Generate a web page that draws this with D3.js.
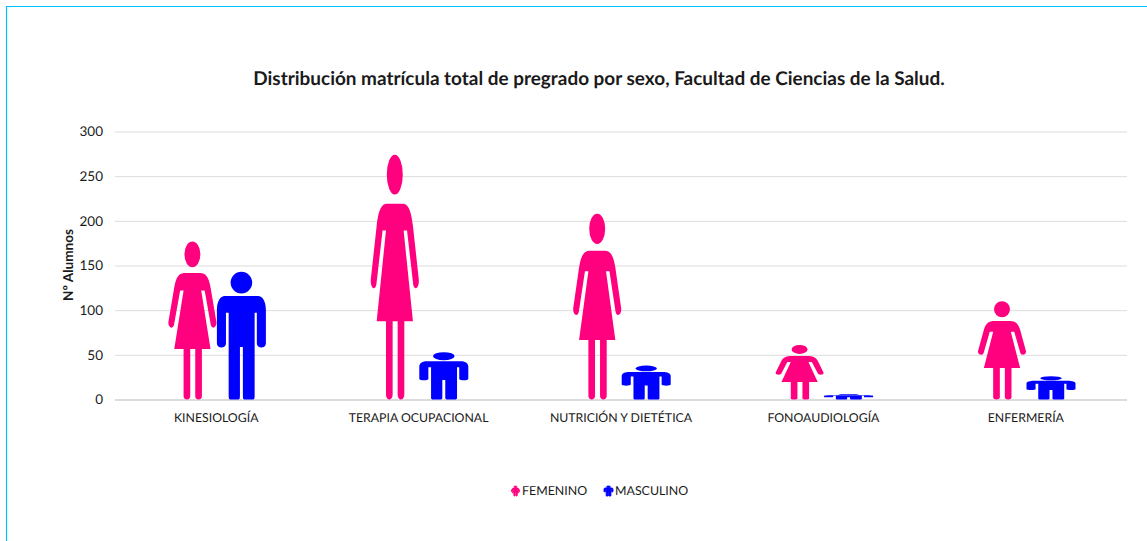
<!DOCTYPE html>
<html>
<head>
<meta charset="utf-8">
<script src="https://cdn.jsdelivr.net/npm/d3@7"></script>
<style>
  html, body { margin: 0; background: #fff; }
  svg { display: block; }
  text { font-family: Lato, "Open Sans", sans-serif; fill: #1a1a1a; text-rendering: geometricPrecision; }
</style>
</head>
<body>
<div id="chart"></div>
<script>
// data
var categories = ["KINESIOLOGÍA", "TERAPIA OCUPACIONAL", "NUTRICIÓN Y DIETÉTICA", "FONOAUDIOLOGÍA", "ENFERMERÍA"];
var seriesNames = ["FEMENINO", "MASCULINO"];
var femenino = [177, 274, 208, 61, 110];
var masculino = [143, 53, 38, 6, 26];
var yTicks = [0, 50, 100, 150, 200, 250, 300];
var seriesColors = ["#ff007f", "#0000ff"];

var titleText = "Distribución matrícula total de pregrado por sexo, Facultad de Ciencias de la Salud.";
var yLabel = "Nº Alumnos";

// silhouettes in a 100x100 box, stretched to each bar
var womanShape = "M33.7,8.15 A16.3,8.15 0 1 1 66.3,8.15 A16.3,8.15 0 1 1 33.7,8.15 Z " +
    "M34,20 L66,20 C76,20 83,22 87,29 L99,51 C100,55 88,56 87,52 L75,31 L68,31 L87,68 " +
    "L69.4,68 L69.4,98 C69.4,100.7 55.8,100.7 55.8,98 L55.8,68 L45.6,68 L45.6,98 " +
    "C45.6,100.7 32,100.7 32,98 L32,68 L13,68 L32,31 L25,31 L13,52 C12,56 0,55 1,51 " +
    "L13,29 C17,22 24,20 34,20 Z";
var manShape = "M28,8.5 A22,8.5 0 1 1 72,8.5 A22,8.5 0 1 1 28,8.5 Z " +
    "M16,19 L84,19 C93,19 100,23 100,30 L100,56 C100,60.5 81.5,60.5 81.5,56 L81.5,32 " +
    "L77,32 L77,97 Q77,100 74,100 L56,100 Q53,100 53,97 L53,59 L47,59 L47,97 Q47,100 44,100 " +
    "L27,100 Q24,100 24,97 L24,32 L18.5,32 L18.5,56 C18.5,60.5 0,60.5 0,56 L0,30 " +
    "C0,23 7,19 16,19 Z";
var shapes = [womanShape, manShape];

var w = 1147;
var h = 541;
var barWidth = 49;

var svg = d3.select("#chart")
    .append("svg")
    .attr("width", w)
    .attr("height", h);

// outer frame, cut off by the picture on the right and bottom
svg.append("path")
    .attr("d", "M6.5," + h + " L6.5,6.5 L" + w + ",6.5")
    .attr("fill", "none")
    .attr("stroke", "#00bfff")
    .attr("stroke-width", 1.2);

var x = d3.scaleBand()
    .domain(categories)
    .range([115, 1127]);

var xSeries = d3.scaleBand()
    .domain(seriesNames)
    .range([x.bandwidth() / 2 - barWidth + 0.7, x.bandwidth() / 2 + barWidth + 0.7]);

var y = d3.scaleLinear()
    .domain([0, 300])
    .range([399.5, 131.5]);

// gridlines and y labels
var yAxis = svg.append("g")
    .attr("transform", "translate(115,0)")
    .call(d3.axisLeft(y).tickValues(yTicks).tickSize(0).tickPadding(12));
yAxis.select(".domain").remove();
yAxis.selectAll("text").attr("font-size", "13.5px").style("font-family", "Lato, sans-serif");
yAxis.selectAll(".tick line")
    .attr("x2", 1012)
    .attr("stroke", "#dcdcdc")
    .attr("stroke-width", function (d) { return d === 0 ? 2 : 1; });

// category labels
var xAxis = svg.append("g")
    .attr("transform", "translate(0,399.5)")
    .call(d3.axisBottom(x).tickSize(0).tickPadding(14));
xAxis.select(".domain").remove();
xAxis.selectAll("text").attr("font-size", "12.3px").style("font-family", "Lato, sans-serif");

// pictograms
var values = [femenino, masculino];
seriesNames.forEach(function (name, s) {
    svg.append("g")
        .selectAll("path")
        .data(values[s])
        .enter()
        .append("path")
        .attr("d", shapes[s])
        .attr("fill", seriesColors[s])
        .attr("transform", function (d, i) {
            var px = x(categories[i]) + xSeries(name);
            return "translate(" + px + "," + y(d) + ") scale(" + (barWidth / 100) + "," + ((y(0) - y(d)) / 100) + ")";
        });
});

svg.append("text")
    .attr("x", 599)
    .attr("y", 85)
    .attr("text-anchor", "middle")
    .attr("font-size", "18.95px")
    .attr("font-weight", "bold")
    .text(titleText);

svg.append("text")
    .attr("transform", "translate(72.5,265) rotate(-90)")
    .attr("text-anchor", "middle")
    .attr("font-size", "13.6px")
    .attr("font-weight", "bold")
    .text(yLabel);

// legend
var legendX = d3.scaleOrdinal().domain(seriesNames).range([511, 604]);
var legend = svg.selectAll(".legend")
    .data(seriesNames)
    .enter()
    .append("g")
    .attr("class", "legend")
    .attr("transform", function (d) { return "translate(" + legendX(d) + ",486)"; });
legend.append("path")
    .attr("d", function (d, i) { return shapes[i]; })
    .attr("fill", function (d, i) { return seriesColors[i]; })
    .attr("stroke", function (d, i) { return seriesColors[i]; })
    .attr("stroke-width", 9)
    .attr("transform", "scale(0.09,0.10)");
legend.append("text")
    .attr("x", 11)
    .attr("y", 9)
    .attr("font-size", "12.4px")
    .text(function (d) { return d; });
</script>
</body>
</html>
